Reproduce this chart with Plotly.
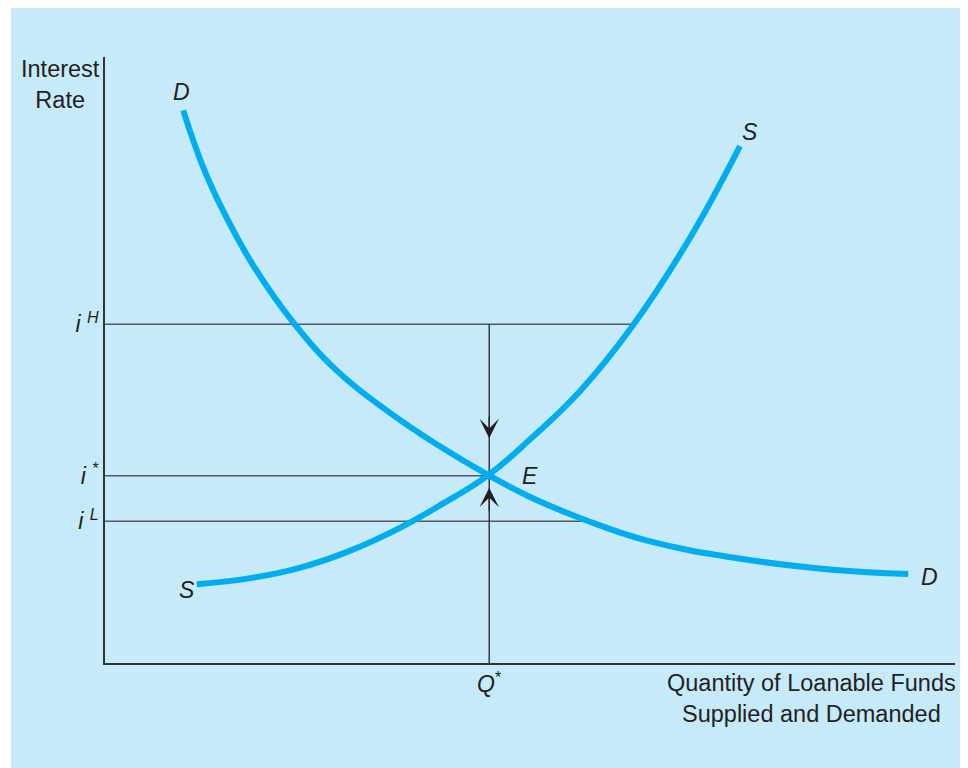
import numpy as np
import plotly.graph_objects as go

# %% DATA (axes scaled 0-100)
demand_q = [9.2, 11.5, 13.9, 17.4, 22.1, 27.3, 33.2, 39.1, 45.1, 50.0, 56.5, 64.0, 74.8, 85.6, 94.5]
demand_i = [91.2, 82.0, 74.6, 65.7, 56.3, 48.2, 41.6, 36.0, 31.0, 27.4, 23.6, 20.1, 17.2, 15.4, 14.7]

supply_q = [10.8, 17.1, 22.9, 28.8, 34.7, 39.4, 45.1, 50.0, 55.9, 62.1, 68.8, 74.7]
supply_i = [13.0, 14.0, 15.7, 18.5, 22.3, 26.0, 31.0, 36.9, 44.9, 55.7, 70.1, 85.3]

q_star = 45.2
i_star = 30.9
i_high = 55.9
i_low = 23.4

y_tick_vals = [i_high, i_star, i_low]
y_tick_text = ['<i>i</i> <sup><i>H</i></sup>', '<i>i</i> <sup>*</sup>', '<i>i</i> <sup><i>L</i></sup>']
x_tick_vals = [q_star]
x_tick_text = ['<i>Q</i><sup>*</sup>']

# %% STYLE
BLUE = '#00AEEF'
PANEL = '#C7EAFA'
INK = '#231F20'
FONT = 'Liberation Sans, Arial, sans-serif'

# plot area in page pixels (page has an 8px body margin)
OFF = 8
L, R, T, B = 105, 955, 57, 663
W, H = 968 - OFF, 768 - OFF


def px_x(p):
    return (p - L) / (R - L)


def px_y(p):
    return (B - p) / (B - T)


# where the rate lines meet the curves
q_high_s = np.interp(i_high, supply_i, supply_q)
q_low_d = np.interp(i_low, demand_i[::-1], demand_q[::-1])

fig = go.Figure()

fig.add_trace(go.Scatter(
    x=demand_q, y=demand_i, mode='lines',
    line=dict(color=BLUE, width=6, shape='spline', smoothing=1.2),
    hoverinfo='skip', name='D'))
fig.add_trace(go.Scatter(
    x=supply_q, y=supply_i, mode='lines',
    line=dict(color=BLUE, width=6, shape='spline', smoothing=1.2),
    hoverinfo='skip', name='S'))

# background panel
fig.add_shape(type='rect', xref='paper', yref='paper',
              x0=px_x(11), x1=px_x(980), y0=px_y(780), y1=px_y(7),
              fillcolor=PANEL, line_width=0, layer='below')

# guide lines
grey = dict(color='#58595B', width=1.5)
fig.add_shape(type='line', x0=0, x1=q_high_s, y0=i_high, y1=i_high, line=grey, layer='below')
fig.add_shape(type='line', x0=0, x1=q_star, y0=i_star, y1=i_star, line=grey, layer='below')
fig.add_shape(type='line', x0=0, x1=q_low_d, y0=i_low, y1=i_low, line=grey, layer='below')
fig.add_shape(type='line', x0=q_star, x1=q_star, y0=0, y1=i_high,
              line=dict(color=INK, width=1.3), layer='below')

# arrows toward equilibrium
for tip, tail in [(i_star + 6.2, i_star + 10), (i_star - 2.0, i_star - 6)]:
    fig.add_annotation(x=q_star, y=tip, ax=q_star, ay=tail, axref='x', ayref='y',
                       text='', showarrow=True, arrowhead=3, arrowsize=2.7,
                       arrowwidth=1.2, arrowcolor=INK)

lab = dict(family=FONT, size=23, color=INK)
fig.add_annotation(x=demand_q[0], y=demand_i[0], text='<i>D</i>', showarrow=False,
                   xshift=-2, yshift=18, font=lab)
fig.add_annotation(x=demand_q[-1], y=demand_i[-1], text='<i>D</i>', showarrow=False,
                   xshift=21, yshift=-3, font=lab)
fig.add_annotation(x=supply_q[-1], y=supply_i[-1], text='<i>S</i>', showarrow=False,
                   xshift=10, yshift=14, font=lab)
fig.add_annotation(x=supply_q[0], y=supply_i[0], text='<i>S</i>', showarrow=False,
                   xshift=-10, yshift=-6, font=lab)
fig.add_annotation(x=q_star, y=i_star, text='<i>E</i>', showarrow=False,
                   xshift=41, font=lab)

# axis titles
fig.add_annotation(xref='paper', yref='paper', x=px_x(60), y=px_y(84),
                   xanchor='center', yanchor='middle',
                   text='Interest<br>Rate', showarrow=False, align='center',
                   font=dict(family=FONT, size=23.5, color=INK))
fig.add_annotation(xref='paper', yref='paper', x=px_x(811), y=px_y(698),
                   xanchor='center', yanchor='middle',
                   text='Quantity of Loanable Funds<br>Supplied and Demanded',
                   showarrow=False, align='center',
                   font=dict(family=FONT, size=23.5, color=INK))

fig.update_xaxes(
    range=[0, 100], showgrid=False, zeroline=False,
    showline=True, linecolor='#333333', linewidth=1.5,
    ticks='', tickvals=x_tick_vals, ticktext=x_tick_text,
    tickfont=dict(family=FONT, size=23, color=INK),
    fixedrange=True,
)
fig.update_yaxes(
    range=[0, 100], showgrid=False, zeroline=False,
    showline=True, linecolor='#333333', linewidth=1.5,
    ticks='', tickvals=y_tick_vals, ticktext=y_tick_text,
    tickfont=dict(family=FONT, size=23, color=INK),
    fixedrange=True,
)

fig.update_layout(
    width=W, height=H,
    margin=dict(l=L - OFF, r=W - (R - OFF), t=T - OFF, b=H - (B - OFF)),
    paper_bgcolor='white',
    plot_bgcolor='rgba(0,0,0,0)',
    showlegend=False,
    font=dict(family=FONT, color=INK),
)

fig.write_html('out.html')
